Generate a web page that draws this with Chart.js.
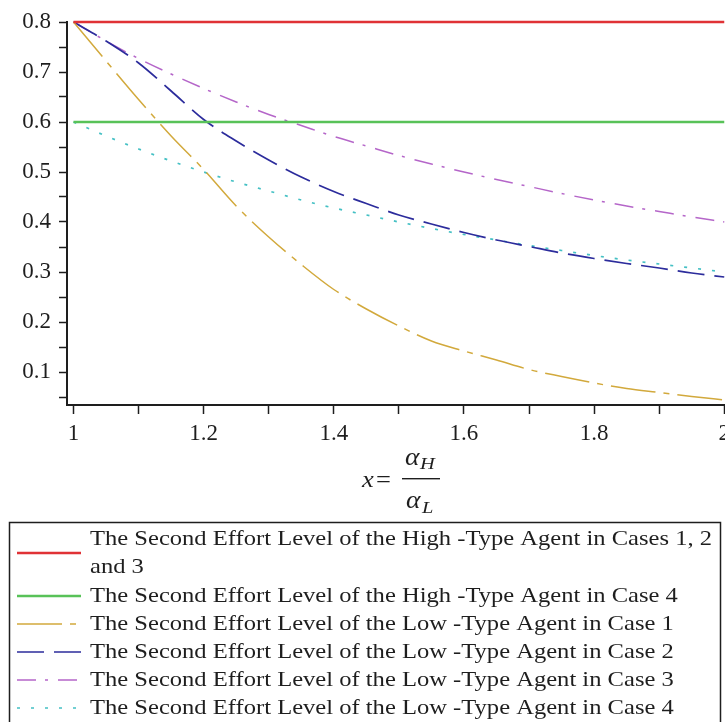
<!DOCTYPE html>
<html>
<head>
<meta charset="utf-8">
<script src="https://cdn.jsdelivr.net/npm/chart.js@4.4.0/dist/chart.umd.min.js"></script>
<style>
  html, body { margin: 0; padding: 0; background: #fff; overflow: hidden; }
  #wrap { position: relative; width: 736px; height: 722px; }
</style>
</head>
<body>
<div id="wrap"><canvas id="effortChart"></canvas></div>
<script>
// x = alpha_H / alpha_L
const xGrid = [1.00, 1.05, 1.10, 1.15, 1.20, 1.25, 1.30, 1.35, 1.40, 1.45, 1.50,
               1.55, 1.60, 1.65, 1.70, 1.75, 1.80, 1.85, 1.90, 1.95, 2.00];
const xEnds = [1, 2];

// tick positions (labels only on every other one)
const xTicks = [1, 1.1, 1.2, 1.3, 1.4, 1.5, 1.6, 1.7, 1.8, 1.9, 2];
const yTicks = [0.05, 0.1, 0.15, 0.2, 0.25, 0.3, 0.35, 0.4, 0.45, 0.5, 0.55, 0.6, 0.65, 0.7, 0.75, 0.8];

// high-type agent (flat)
const highCases123 = [0.8, 0.8];
const highCase4 = [0.6, 0.6];

// low-type agent
const lowCase1 = [0.800, 0.722, 0.645, 0.572, 0.505, 0.432, 0.370, 0.315, 0.265, 0.226, 0.192,
                  0.162, 0.142, 0.124, 0.105, 0.091, 0.078, 0.067, 0.059, 0.051, 0.044];
const lowCase2 = [0.800, 0.762, 0.718, 0.662, 0.605, 0.562, 0.524, 0.490, 0.461, 0.437, 0.414,
                  0.396, 0.379, 0.364, 0.351, 0.338, 0.327, 0.317, 0.308, 0.298, 0.290];
const lowCase3 = [0.800, 0.762, 0.727, 0.696, 0.667, 0.640, 0.615, 0.593, 0.571, 0.552, 0.533,
                  0.516, 0.500, 0.485, 0.471, 0.457, 0.444, 0.432, 0.421, 0.410, 0.400];
const lowCase4 = [0.600, 0.572, 0.546, 0.522, 0.500, 0.480, 0.462, 0.444, 0.428, 0.414, 0.400,
                  0.387, 0.375, 0.364, 0.353, 0.343, 0.333, 0.324, 0.316, 0.308, 0.300];

const legendText = [
  ['The Second Effort Level of the High -Type Agent in Cases 1, 2', 'and 3'],
  ['The Second Effort Level of the High -Type Agent in Case 4'],
  ['The Second Effort Level of the Low -Type Agent in Case 1'],
  ['The Second Effort Level of the Low -Type Agent in Case 2'],
  ['The Second Effort Level of the Low -Type Agent in Case 3'],
  ['The Second Effort Level of the Low -Type Agent in Case 4']
];

const serif = '"Liberation Serif", "DejaVu Serif", serif';
const ink = '#1e1e1e';

const toPoints = (xs, ys) => xs.map((x, i) => ({ x: x, y: ys[i] }));

const series = [
  { ys: highCases123, xs: xEnds, color: '#e03236', width: 2.4, dash: [] },
  { ys: highCase4,    xs: xEnds, color: '#58c258', width: 2.4, dash: [] },
  { ys: lowCase1,     xs: xGrid, color: '#d2a93c', width: 1.5, dash: [45, 8, 6, 8] },
  { ys: lowCase2,     xs: xGrid, color: '#2c2c9c', width: 1.7, dash: [27, 10] },
  { ys: lowCase3,     xs: xGrid, color: '#b566c9', width: 1.5, dash: [19, 9, 3, 10] },
  { ys: lowCase4,     xs: xGrid, color: '#44c0c4', width: 1.7, dash: [3, 11] }
];

// text drawn a little wider than the font, like the source image
function wideText(ctx, text, x, y, sx) {
  ctx.save();
  ctx.translate(x, y);
  ctx.scale(sx, 1);
  ctx.fillText(text, 0, 0);
  ctx.restore();
}

// axis title (x = aH / aL) and boxed legend below the plot
const extras = {
  id: 'extras',
  afterDraw(chart) {
    const ctx = chart.ctx;
    ctx.save();
    ctx.fillStyle = ink;
    ctx.textBaseline = 'middle';
    ctx.textAlign = 'left';

    ctx.font = 'italic 23px ' + serif;
    wideText(ctx, 'x', 362, 481, 1.15);
    ctx.font = '23px ' + serif;
    wideText(ctx, '=', 376, 481, 1.15);
    ctx.fillRect(402, 478, 38, 1.4);
    ctx.font = 'italic 25px ' + serif;
    wideText(ctx, '\u03B1', 405, 458, 1.1);
    wideText(ctx, '\u03B1', 406, 501, 1.1);
    ctx.font = 'italic 17px ' + serif;
    wideText(ctx, 'H', 420, 465, 1.2);
    wideText(ctx, 'L', 422, 509, 1.2);

    // legend box
    ctx.strokeStyle = ink;
    ctx.lineWidth = 1.5;
    ctx.strokeRect(9.5, 522.5, 711, 210);

    const sampleY = [553, 596, 624, 652, 680, 708];
    ctx.font = '22px ' + serif;
    const sx = 622 / ctx.measureText(legendText[0][0]).width;
    chart.data.datasets.forEach((ds, i) => {
      const y = sampleY[i];
      ctx.beginPath();
      ctx.setLineDash(ds.borderDash || []);
      ctx.strokeStyle = ds.borderColor;
      ctx.lineWidth = ds.borderWidth;
      ctx.moveTo(17, y);
      ctx.lineTo(81, y);
      ctx.stroke();
      ctx.setLineDash([]);
      const lines = legendText[i];
      const top = y - (lines.length - 1) * 14;
      lines.forEach((t, k) => wideText(ctx, t, 90, top + k * 28, sx));
    });
    ctx.restore();
  }
};

const onGrid = (v, step) => Math.abs(v / step - Math.round(v / step)) < 1e-6;

new Chart(document.getElementById('effortChart'), {
  type: 'line',
  data: {
    datasets: series.map((s, i) => ({
      label: legendText[i].join(' '),
      data: toPoints(s.xs, s.ys),
      borderColor: s.color,
      backgroundColor: s.color,
      borderWidth: s.width,
      borderDash: s.dash,
      pointRadius: 0,
      cubicInterpolationMode: 'monotone',
      fill: false,
      clip: false
    }))
  },
  options: {
    responsive: true,
    maintainAspectRatio: false,
    animation: false,
    layout: { padding: { top: 22, right: 0, left: 0, bottom: 0 } },
    plugins: {
      legend: { display: false },
      tooltip: { enabled: false }
    },
    scales: {
      x: {
        type: 'linear',
        min: 0.99,
        max: 2.003,
        border: { color: ink, width: 2 },
        grid: { drawOnChartArea: false, tickLength: 9, color: ink, tickWidth: 1.5 },
        ticks: {
          autoSkip: false,
          maxRotation: 0,
          padding: 6,
          color: ink,
          font: { family: serif, size: 23 },
          callback: v => onGrid(v, 0.2) ? String(+v.toFixed(1)) : ''
        },
        afterBuildTicks: s => { s.ticks = xTicks.map(v => ({ value: v })); },
        afterFit: s => { s.height = 722 - 405; }
      },
      y: {
        type: 'linear',
        min: 0.034,
        max: 0.8,
        border: { color: ink, width: 2 },
        grid: { drawOnChartArea: false, tickLength: 8, color: ink, tickWidth: 1.5 },
        ticks: {
          autoSkip: false,
          padding: 8,
          color: ink,
          font: { family: serif, size: 23 },
          callback: v => onGrid(v, 0.1) ? v.toFixed(1) : ''
        },
        afterBuildTicks: s => { s.ticks = yTicks.map(v => ({ value: v })); },
        afterFit: s => { s.width = 67; }
      }
    }
  },
  plugins: [extras]
});
</script>
</body>
</html>
